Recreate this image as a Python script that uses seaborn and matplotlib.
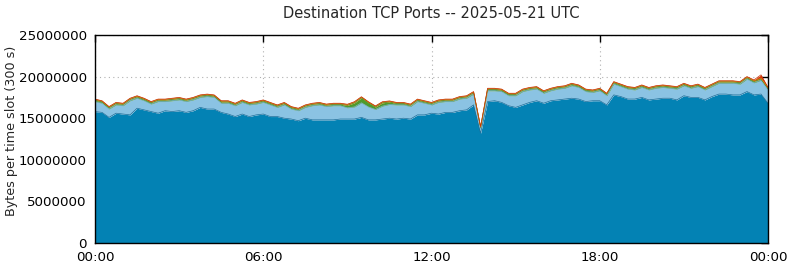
import numpy as np
import pandas as pd
import matplotlib
matplotlib.use("Agg")
import matplotlib.pyplot as plt
import seaborn as sns

# ---- data (values in millions of bytes per 300 s slot, sampled every 15 min) ----
slot_minutes = 15
base_mb = [15.8, 15.7, 15.1, 15.6, 15.5, 15.4, 16.2, 16.0, 15.8, 15.6, 15.9, 15.8, 15.9, 15.7, 15.9, 16.3,
           16.1, 16.1, 15.7, 15.5, 15.2, 15.5, 15.2, 15.4, 15.5, 15.2, 15.2, 15.0, 14.9, 14.7, 15.0, 14.8,
           14.8, 14.8, 14.8, 14.9, 14.9, 14.9, 15.1, 14.8, 14.8, 14.9, 15.0, 14.9, 15.0, 14.9, 15.4, 15.4,
           15.6, 15.5, 15.7, 15.7, 15.9, 16.0, 16.6, 13.2, 17.0, 17.1, 16.9, 16.5, 16.3, 16.6, 16.9, 17.1,
           16.8, 17.1, 17.2, 17.3, 17.4, 17.3, 17.0, 17.1, 17.1, 16.6, 17.8, 17.6, 17.3, 17.3, 17.5, 17.2,
           17.3, 17.4, 17.4, 17.2, 17.7, 17.5, 17.5, 17.2, 17.6, 17.9, 17.9, 17.8, 17.8, 18.2, 17.8, 17.9,
           16.8]
lightblue_mb = [1.2, 1.1, 1.0, 1.0, 1.0, 1.7, 1.2, 1.1, 0.9, 1.4, 1.1, 1.3, 1.3, 1.3, 1.3, 1.2,
                1.5, 1.4, 1.1, 1.3, 1.3, 1.4, 1.4, 1.3, 1.4, 1.4, 1.1, 1.6, 1.2, 1.2, 1.3, 1.7,
                1.8, 1.6, 1.7, 1.6, 1.35, 1.45, 1.75, 1.55, 1.25, 1.55, 1.65, 1.7, 1.6, 1.5, 1.6, 1.4,
                1.0, 1.4, 1.3, 1.3, 1.4, 1.4, 1.3, 0.5, 1.3, 1.2, 1.3, 1.2, 1.4, 1.6, 1.5, 1.4,
                1.2, 1.2, 1.3, 1.3, 1.5, 1.4, 1.2, 1.0, 1.2, 1.1, 1.3, 1.2, 1.2, 1.1, 1.2, 1.2,
                1.3, 1.3, 1.2, 1.3, 1.2, 1.1, 1.3, 1.2, 1.2, 1.3, 1.3, 1.4, 1.3, 1.5, 1.45, 1.65,
                1.6]
green_mb = [0.17] * 36 + [0.3, 0.5, 0.6, 0.5, 0.3, 0.4, 0.3] + [0.17] * 54
orange_mb = [0.09] * 97
red_mb = [0.04] * 94 + [0.10, 0.40, 0.04]

layer_names = ["port A", "port B", "port C", "port D", "port E"]
layer_values = [base_mb, lightblue_mb, green_mb, orange_mb, red_mb]
layer_colors = ["#0382B4", "#8BC3E3", "#4E9B2C", "#E2850A", "#D8360A"]
edge_colors = ["#1E6E98", "#78B2D4", "#468E27", "#D87A05", "#C83208"]

x_tick_hours = [0, 6, 12, 18, 24]
x_tick_labels = ["00:00", "06:00", "12:00", "18:00", "00:00"]
y_ticks = [0, 5000000, 10000000, 15000000, 20000000, 25000000]

# ---- build a tidy table ----
hours = np.arange(len(base_mb)) * slot_minutes / 60.0
wide = pd.DataFrame({n: np.array(v) * 1e6 for n, v in zip(layer_names, layer_values)})
cum = wide[layer_names].cumsum(axis=1)

sns.set_style("white")
plt.rcParams["font.family"] = ["DejaVu Sans"]

fig = plt.figure(figsize=(7.9, 2.67), dpi=100)
ax = fig.add_axes([95 / 790, 1 - 243 / 267, (768 - 95) / 790, (243 - 35) / 267])

lower = np.zeros(len(hours))
for name, col in zip(layer_names, layer_colors):
    upper = cum[name].values
    ax.fill_between(hours, lower, upper, color=col, linewidth=0, zorder=2)
    lower = upper

long = cum.assign(hour=hours).melt(id_vars="hour", var_name="layer", value_name="top")
sns.lineplot(data=long, x="hour", y="top", hue="layer", palette=dict(zip(layer_names, edge_colors)),
             linewidth=0.5, legend=False, ax=ax, zorder=3)

ax.set_xlim(0, 24)
ax.set_ylim(0, 25000000)
ax.set_xticks(x_tick_hours)
ax.set_xticklabels(x_tick_labels)
ax.set_yticks(y_ticks)
ax.set_yticklabels([str(v) for v in y_ticks])
ax.set_xlabel("")
ax.set_ylabel("")
fig.text(12 / 790, 1 - 131 / 267, "Bytes per time slot (300 s)", rotation=90,
         ha="center", va="center", fontsize=9.2)
ax.set_title("Destination TCP Ports -- 2025-05-21 UTC", fontsize=10.5, pad=12)

ax.grid(True, color="#b0b0b0", linestyle=(0, (1, 3)), linewidth=0.8, zorder=1)
ax.set_axisbelow(True)
ax.tick_params(direction="in", length=5, width=1, top=True, right=True, labelsize=9.6, pad=6, colors="black")
for s in ax.spines.values():
    s.set_visible(True)
    s.set_color("black")
    s.set_linewidth(1)
    s.set_zorder(5)

fig.savefig("out.png", dpi=100)
